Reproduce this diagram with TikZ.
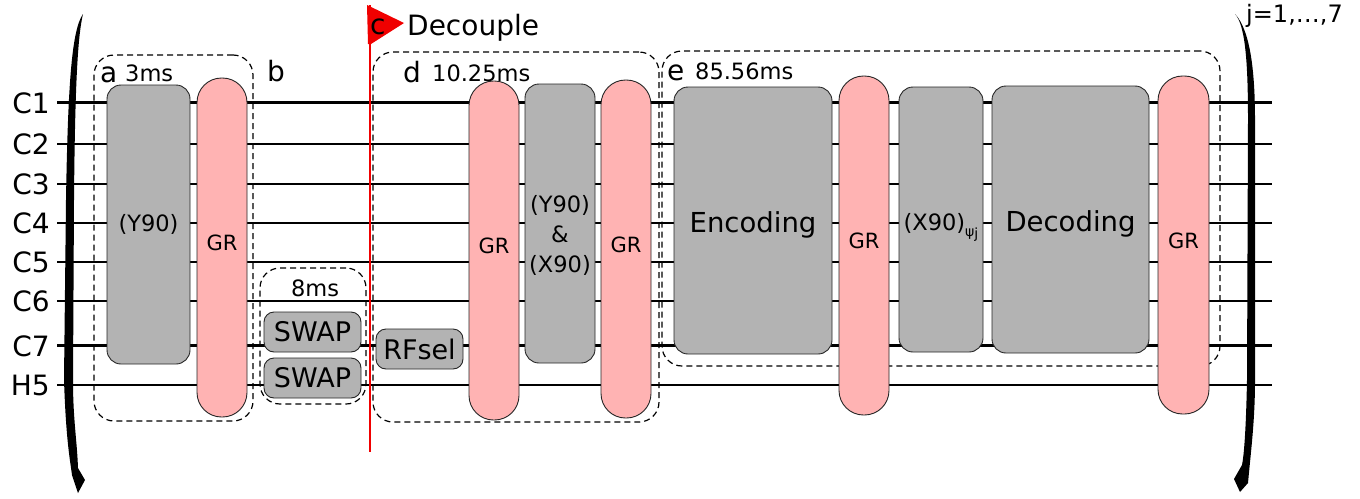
\documentclass[tikz,border=0pt]{standalone}
\usepackage{fontspec}
\setmainfont{DejaVu Sans}
\definecolor{gateg}{RGB}{179,179,179}
\definecolor{grpink}{RGB}{255,179,179}
\definecolor{flagred}{RGB}{240,0,0}
\tikzset{
  wire/.style={line width=2.7pt, black},
  gate/.style={draw=black!85, line width=0.9pt, fill=gateg, rounded corners=14pt, inner sep=0pt, font=\fontsize{22.5}{27}\selectfont},
  smallgate/.style={gate, rounded corners=10pt, font=\fontsize{27}{30}\selectfont},
  grgate/.style={draw=black!85, line width=0.9pt, fill=grpink, rounded corners=24.5pt, inner sep=0pt, font=\fontsize{21}{25}\selectfont, text height=16pt, text depth=10pt},
  dbox/.style={draw, dash pattern=on 6pt off 4pt, line width=1.2pt, rounded corners=20pt, inner sep=0pt},
  qlabel/.style={font=\fontsize{28}{30}\selectfont, anchor=base east, inner sep=0pt},
  letter/.style={font=\fontsize{28}{30}\selectfont, anchor=base west, inner sep=0pt},
  dur/.style={font=\fontsize{22.5}{27}\selectfont, anchor=base west, inner sep=0pt},
  bigtext/.style={font=\fontsize{27.5}{30}\selectfont, text height=28pt, text depth=5pt},
}
\begin{document}
\begin{tikzpicture}[x=1pt,y=-1pt]
\useasboundingbox (0,0) rectangle (1360,498);

% wires
\foreach \n/\y in {1/102.5,2/144,3/184,4/223,5/262,6/301,7/345.5,8/385}{
  \coordinate (ws\n) at (57,\y);
  \coordinate (we\n) at (1272,\y);
  \draw[wire] (ws\n) -- (we\n);
}
\node[qlabel] (lc1) at (50,113) {C1};
\node[qlabel] (lc2) at (50,154.5) {C2};
\node[qlabel] (lc3) at (50,194.5) {C3};
\node[qlabel] (lc4) at (50,233.5) {C4};
\node[qlabel] (lc5) at (50,272.5) {C5};
\node[qlabel] (lc6) at (50,311.5) {C6};
\node[qlabel] (lc7) at (50,356) {C7};
\node[qlabel] (lh5) at (50,395.5) {H5};

% brackets
\fill[black] (83,14) .. controls (72,30) and (68,80) .. (66,200) -- (64,380)
  .. controls (66,440) and (70,460) .. (72,475) -- (78,493) -- (85,480) -- (78,468)
  .. controls (77,440) and (73,420) .. (73,380) -- (74,200)
  .. controls (75,80) and (78,35) .. (83,14) -- cycle;
\fill[black] (1235,14) .. controls (1245,25) and (1248,60) .. (1248,120) -- (1247,380)
  .. controls (1246,430) and (1244,455) .. (1242,465) -- (1234,479) -- (1240,492)
  -- (1248,483) .. controls (1251,450) and (1255,420) .. (1255,380) -- (1255,120)
  .. controls (1255,70) and (1250,30) .. (1235,14) -- cycle;
\node[dur, font=\fontsize{24}{27}\selectfont, anchor=base west] (jrange) at (1246,22) {j=1,…,7};

% dashed groups
\node[dbox, minimum width=159pt, minimum height=366pt] (boxa) at (173.5,238) {};
\node[dbox, minimum width=106pt, minimum height=136pt] (boxb) at (313,336) {};
\node[dbox, minimum width=286pt, minimum height=370pt] (boxd) at (516,237) {};
\node[dbox, minimum width=558pt, minimum height=315pt] (boxe) at (941,208.5) {};

\node[letter] (la) at (100,82) {a};
\node[dur] (ta) at (125,81) {3ms};
\node[letter] (lb) at (267,81) {b};
\node[dur, anchor=base] (tb) at (315,296) {8ms};
\node[letter] (ld) at (403,82) {d};
\node[dur] (td) at (432,81) {10.25ms};
\node[letter] (le) at (667,80) {e};
\node[dur] (te) at (695,79) {85.56ms};

% red decouple line and flag
\coordinate (poletop) at (370,5);
\coordinate (polebot) at (370,452);
\draw[flagred, line width=2pt] (poletop) -- (polebot);
\fill[flagred] (367,5) -- (404,23) -- (371,44) -- (368,44) -- cycle;
\node[letter] (lc) at (370,34) {c};
\node[letter] (decouple) at (407,35) {Decouple};

% block a
\node[gate, minimum width=83pt, minimum height=279pt] (y90a) at (148.5,224.5) {(Y90)};
\node[grgate, minimum width=50pt, minimum height=339pt] (gra) at (222,247.5) {GR};

% block b
\node[smallgate, minimum width=97pt, minimum height=40pt] (swap1) at (312.5,332) {SWAP};
\node[smallgate, minimum width=97pt, minimum height=40pt] (swap2) at (312.5,378) {SWAP};

% c
\node[smallgate, minimum width=87pt, minimum height=40pt] (rfsel) at (419.5,349) {RFsel};

% block d
\node[grgate, minimum width=50pt, minimum height=339pt] (grd1) at (494,250.5) {GR};
\node[gate, minimum width=70pt, minimum height=279pt] (yx) at (560,223.5) {};
\node[font=\fontsize{22.5}{30}\selectfont, align=center, inner sep=0pt] (yxtext) at ([yshift=-12pt]yx.center) {(Y90)\\\&\\(X90)};
\node[grgate, minimum width=50pt, minimum height=338pt] (grd2) at (626,249) {GR};

% block e
\node[gate, bigtext, minimum width=158pt, minimum height=267pt] (enc) at (753,220.5) {Encoding};
\node[grgate, minimum width=50pt, minimum height=339pt] (gre1) at (864,245.5) {GR};
\node[gate, text height=26pt, text depth=4.6pt, minimum width=84pt, minimum height=265pt] (x90) at (941,219.5) {(X90)\raisebox{-6pt}{\fontsize{14}{14}\selectfont ψ\raisebox{-2pt}{j}}};
\node[gate, bigtext, minimum width=157pt, minimum height=267pt] (dec) at (1070.5,219.5) {Decoding};
\node[grgate, minimum width=51pt, minimum height=338pt] (gre2) at (1183.5,245) {GR};

\end{tikzpicture}
\end{document}
